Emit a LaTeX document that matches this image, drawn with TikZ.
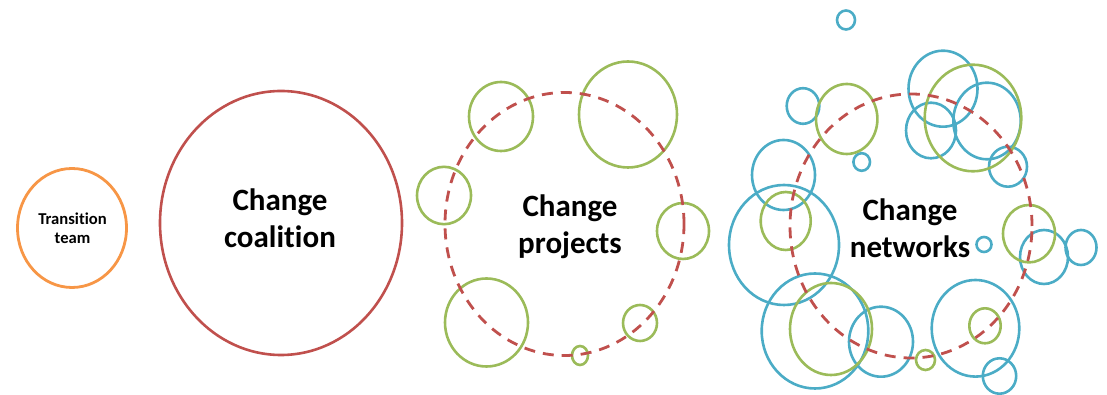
\documentclass[tikz,border=0pt]{standalone}
\usepackage{fontspec}
\setmainfont{Carlito}[Ligatures=NoCommon]
\definecolor{ringgreen}{RGB}{155,187,89}
\definecolor{ringblue}{RGB}{75,172,198}
\definecolor{ringred}{RGB}{192,80,77}
\definecolor{ringorange}{RGB}{247,150,70}
\tikzset{
  greenring/.style={draw=ringgreen, line width=1.3pt},
  bluering/.style={draw=ringblue, line width=1.3pt},
  dashring/.style={draw=ringred, line width=1.4pt, dash pattern=on 5.5pt off 4pt},
  biglabel/.style={align=center, font=\fontsize{15.5}{18.5}\selectfont\bfseries},
}
\begin{document}
\begin{tikzpicture}[x=0.5pt, y=0.5pt]
        \useasboundingbox (0,0) rectangle (1107,395);

        % transition team and coalition
        \draw[draw=ringorange, line width=1.4pt] (72,167) ellipse (54.5 and 59.5);
        \draw[draw=ringred, line width=1.3pt] (281,172) ellipse (121 and 132);
        \node[align=center, font=\fontsize{8.3}{9.5}\selectfont\bfseries] (transition) at (72.5,167) {Transition\\team};
        \node[biglabel] (coalition) at (280,177) {Change\\coalition};

        % projects
        \draw[greenring] (501,278.5) ellipse (32 and 34.5);
        \draw[greenring] (628,280.5) ellipse (49 and 53);
        \draw[greenring] (444,199.5) ellipse (27 and 28.7);
        \draw[greenring] (683,164) ellipse (26 and 28);
        \draw[greenring] (486.5,72.5) ellipse (41.5 and 44);
        \draw[greenring] (640,72) ellipse (17 and 18);
        \draw[greenring] (580,39.5) ellipse (8 and 9.5);
        \draw[dashring] (564.5,171) ellipse (119.5 and 131.5);
        \node[biglabel] (projects) at (570,168.5) {Change\\projects};

        % networks
        \draw[bluering] (846,375) ellipse (9 and 9.5);
        \draw[bluering] (803,289) ellipse (16.3 and 17.8);
        \draw[bluering] (861.7,233) ellipse (8.3 and 8.8);
        \draw[bluering] (783.5,220) ellipse (31.5 and 35);
        \draw[bluering] (784,150) ellipse (55 and 60);
        \draw[bluering] (815,64) ellipse (53.3 and 57.5);
        \draw[bluering] (881,53.3) ellipse (32 and 35);
        \draw[bluering] (943,306.3) ellipse (34.5 and 38);
        \draw[bluering] (987,274) ellipse (33.7 and 38.3);
        \draw[bluering] (931,264.5) ellipse (25 and 27.8);
        \draw[bluering] (1008,228.3) ellipse (19 and 20);
        \draw[bluering] (1044,138) ellipse (24 and 27);
        \draw[bluering] (1081,147.5) ellipse (15.5 and 17.5);
        \draw[bluering] (984,150.5) ellipse (7.5 and 7.5);
        \draw[bluering] (975.5,66.7) ellipse (43.8 and 48.3);
        \draw[bluering] (999.5,19) ellipse (16.7 and 17.7);
        \draw[greenring] (846.7,276) ellipse (30.7 and 35);
        \draw[greenring] (785.7,174) ellipse (25 and 29);
        \draw[greenring] (831,66) ellipse (41 and 46);
        \draw[greenring] (973,277) ellipse (48.3 and 53.3);
        \draw[greenring] (1029,161.3) ellipse (26 and 28.7);
        \draw[greenring] (985,69.2) ellipse (15.7 and 17.5);
        \draw[greenring] (925.5,35) ellipse (9.5 and 10);
        \draw[dashring] (911,169) ellipse (121 and 132);
        \node[biglabel] (networks) at (910,166.5) {Change\\networks};
    \end{tikzpicture}
\end{document}
